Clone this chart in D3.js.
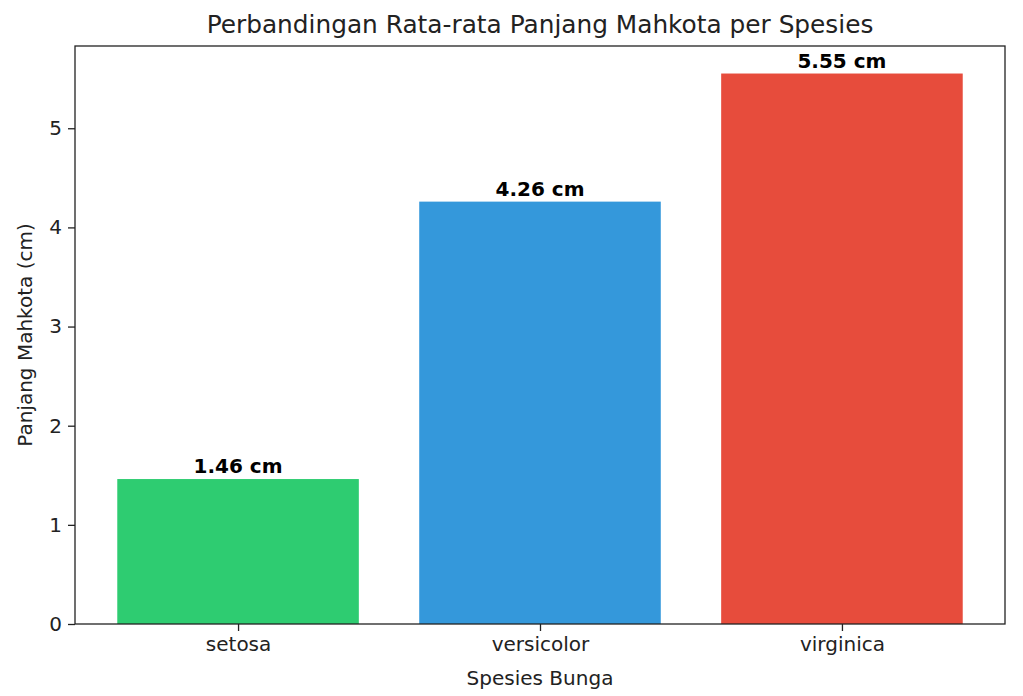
<!DOCTYPE html>
<html>
<head>
<meta charset="utf-8">
<script src="https://cdn.jsdelivr.net/npm/d3@7"></script>
<style>
  body { margin: 0; background: #fff; }
  svg { font-family: "DejaVu Sans", sans-serif; }
</style>
</head>
<body>
<svg id="chart" width="1023" height="696"></svg>
<script>
const species = ["setosa", "versicolor", "virginica"];
const meanPetalLength = [1.462, 4.26, 5.552];
const barColors = ["#2ecc71", "#3498db", "#e74c3c"];
const yTicks = [0, 1, 2, 3, 4, 5];

const svg = d3.select("#chart");
const margin = { top: 46, right: 18, bottom: 72, left: 75 };
const width = 1023, height = 696;

// bars sit at 0..n-1 with width 0.8 and a 5% pad on x
const n = species.length;
const xPad = (n - 1 + 0.8) * 0.05;
const x = d3.scaleLinear()
  .domain([-0.4 - xPad, n - 1 + 0.4 + xPad])
  .range([margin.left, width - margin.right]);

const y = d3.scaleLinear()
  .domain([0, d3.max(meanPetalLength) * 1.05])
  .range([height - margin.bottom, margin.top]);

const data = species.map((s, i) => ({ s, i, v: meanPetalLength[i], c: barColors[i] }));

svg.selectAll("rect.bar")
  .data(data)
  .join("rect")
  .attr("class", "bar")
  .attr("x", d => x(d.i - 0.4))
  .attr("width", d => x(d.i + 0.4) - x(d.i - 0.4))
  .attr("y", d => y(d.v))
  .attr("height", d => y(0) - y(d.v))
  .attr("fill", d => d.c);

svg.selectAll("text.val")
  .data(data)
  .join("text")
  .attr("class", "val")
  .attr("x", d => x(d.i))
  .attr("y", d => y(d.v) - 6)
  .attr("text-anchor", "middle")
  .attr("font-size", "20px")
  .attr("font-weight", "bold")
  .attr("fill", "#000")
  .text(d => d.v.toFixed(2) + " cm");

// axes
const xAxis = g => g
  .attr("transform", `translate(0,${height - margin.bottom})`)
  .call(d3.axisBottom(x).tickValues(d3.range(n)).tickFormat(i => species[i]).tickSize(7).tickPadding(6).tickSizeOuter(0))
  .call(g => g.select(".domain").remove());

const yAxis = g => g
  .attr("transform", `translate(${margin.left},0)`)
  .call(d3.axisLeft(y).tickValues(yTicks).tickFormat(d3.format("d")).tickSize(7).tickPadding(6).tickSizeOuter(0))
  .call(g => g.select(".domain").remove());

svg.append("g").call(xAxis);
svg.append("g").call(yAxis);

svg.selectAll(".tick text")
  .attr("font-family", "DejaVu Sans, sans-serif")
  .attr("font-size", "20px")
  .attr("fill", "#222");
svg.selectAll(".tick line").attr("stroke", "#222").attr("stroke-width", 1.3);

// frame
svg.append("rect")
  .attr("x", margin.left)
  .attr("y", margin.top)
  .attr("width", width - margin.left - margin.right)
  .attr("height", height - margin.top - margin.bottom)
  .attr("fill", "none")
  .attr("stroke", "#222")
  .attr("stroke-width", 1.3);

// titles
svg.append("text")
  .attr("x", (margin.left + width - margin.right) / 2)
  .attr("y", 33)
  .attr("text-anchor", "middle")
  .attr("font-size", "24.8px")
  .attr("fill", "#222")
  .text("Perbandingan Rata-rata Panjang Mahkota per Spesies");

svg.append("text")
  .attr("x", (margin.left + width - margin.right) / 2)
  .attr("y", 685)
  .attr("text-anchor", "middle")
  .attr("font-size", "20px")
  .attr("fill", "#222")
  .text("Spesies Bunga");

svg.append("text")
  .attr("transform", `translate(32,${(margin.top + height - margin.bottom) / 2}) rotate(-90)`)
  .attr("text-anchor", "middle")
  .attr("font-size", "20px")
  .attr("fill", "#222")
  .text("Panjang Mahkota (cm)");
</script>
</body>
</html>
